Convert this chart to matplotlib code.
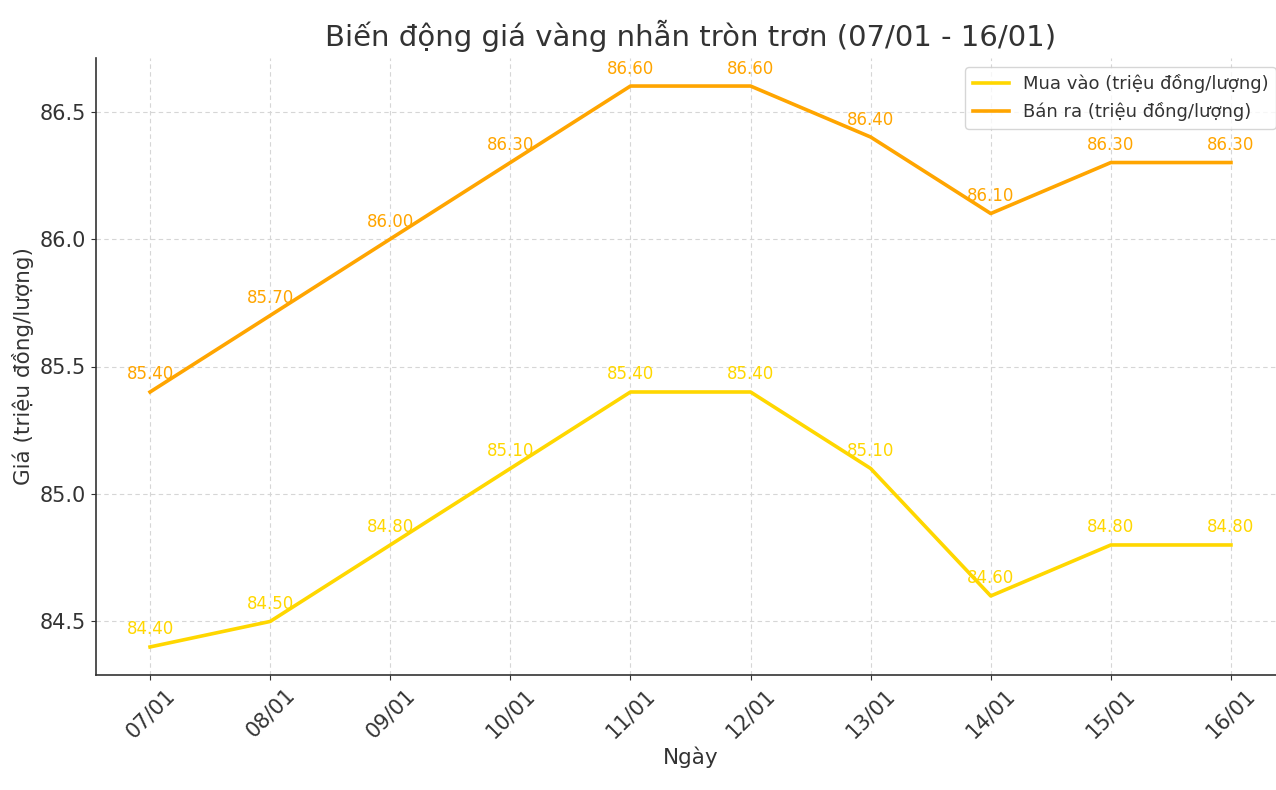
import matplotlib.pyplot as plt

ngay = ["07/01", "08/01", "09/01", "10/01", "11/01", "12/01", "13/01", "14/01", "15/01", "16/01"]
mua_vao = [84.4, 84.5, 84.8, 85.1, 85.4, 85.4, 85.1, 84.6, 84.8, 84.8]
ban_ra = [85.4, 85.7, 86.0, 86.3, 86.6, 86.6, 86.4, 86.1, 86.3, 86.3]

mau_mua = "#FFD700"
mau_ban = "#FFA500"
mau_chu = "#333333"

fig = plt.figure(figsize=(12.76, 7.9), dpi=100)
ax = fig.add_axes([96 / 1276, 1 - 675 / 790, (1285 - 96) / 1276, (675 - 58) / 790])

x = range(len(ngay))
ax.plot(x, mua_vao, color=mau_mua, lw=2.6, label="Mua vào (triệu đồng/lượng)")
ax.plot(x, ban_ra, color=mau_ban, lw=2.6, label="Bán ra (triệu đồng/lượng)")

for i in x:
    ax.annotate(f"{mua_vao[i]:.2f}", (i, mua_vao[i]), textcoords="offset points",
                xytext=(0, 9), ha="center", color=mau_mua, fontsize=12)
    ax.annotate(f"{ban_ra[i]:.2f}", (i, ban_ra[i]), textcoords="offset points",
                xytext=(0, 9), ha="center", color=mau_ban, fontsize=12)

ax.set_xticks(list(x))
ax.set_xticklabels(ngay, rotation=45)
ax.set_yticks([84.5, 85.0, 85.5, 86.0, 86.5])
ax.tick_params(labelsize=15, colors=mau_chu)
ax.set_title("Biến động giá vàng nhẫn tròn trơn (07/01 - 16/01)", fontsize=21, color=mau_chu, pad=9)
ax.set_xlabel("Ngày", fontsize=15.5, color=mau_chu)
ax.set_ylabel("Giá (triệu đồng/lượng)", fontsize=15.5, color=mau_chu)
ax.grid(True, linestyle=(0, (4, 3)), color="#d6d6d6", lw=0.8)
ax.spines["top"].set_visible(False)
ax.spines["right"].set_visible(False)
ax.spines["left"].set_color(mau_chu)
ax.spines["bottom"].set_color(mau_chu)
ax.spines["left"].set_linewidth(1.2)
ax.spines["bottom"].set_linewidth(1.2)
leg = ax.legend(loc="upper right", fontsize=13, labelcolor=mau_chu)

plt.savefig("out.png", dpi=100)
